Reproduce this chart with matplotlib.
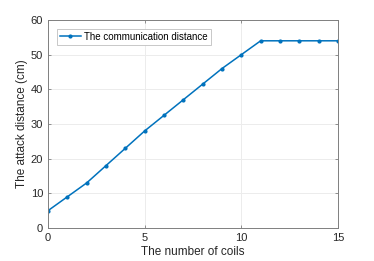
import numpy as np
import matplotlib.pyplot as plt

plt.rcParams['font.family'] = ['Liberation Sans', 'DejaVu Sans']

coils = [0, 1, 2, 3, 4, 5, 6, 7, 8, 9, 10, 11, 12, 13, 14, 15]
distance = [5, 9, 13, 18, 23, 28, 32.5, 37, 41.5, 46, 50, 54, 54, 54, 54, 54]

fig = plt.figure(figsize=(3.74, 2.61), dpi=100)
ax = fig.add_axes([48 / 374, 33 / 261, 290 / 374, 208 / 261])

ax.plot(coils, distance, color='#0072BD', marker='.', markersize=4, linewidth=1.1,
        label='The communication distance')

ax.set_xlim(0, 15)
ax.set_ylim(0, 60)
ax.set_xticks([0, 5, 10, 15])
ax.set_yticks([0, 10, 20, 30, 40, 50, 60])
ax.grid(True, color='#ececec', linewidth=0.7)
ax.set_axisbelow(True)

gray = '#262626'
for s in ax.spines.values():
    s.set_color('#7f7f7f')
    s.set_linewidth(0.7)
ax.tick_params(direction='in', length=2.5, width=0.6, colors='#7f7f7f',
               labelcolor=gray, labelsize=8, top=True, right=True)

ax.set_xlabel('The number of coils', fontsize=8.5, color=gray, labelpad=2)
ax.set_ylabel('The attack distance (cm)', fontsize=8.5, color=gray, labelpad=2)

leg = ax.legend(loc='upper left', fontsize=7, fancybox=False, framealpha=1,
                edgecolor='#bfbfbf', borderpad=0.3, handlelength=2.2,
                handletextpad=0.3, borderaxespad=0.9)
leg.get_frame().set_linewidth(0.6)

fig.savefig('out.png', dpi=100)
